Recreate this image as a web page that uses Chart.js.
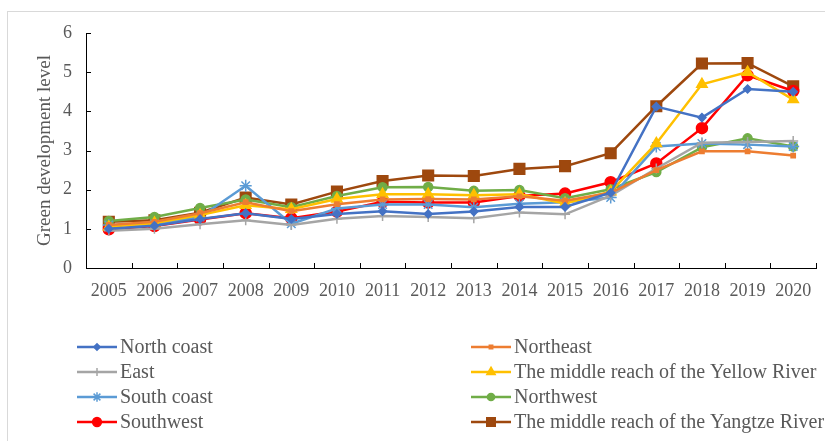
<!DOCTYPE html>
<html>
<head>
<meta charset="utf-8">
<script src="https://cdn.jsdelivr.net/npm/chart.js@4/dist/chart.umd.min.js"></script>
<style>
  html, body { margin: 0; padding: 0; background: #fff; overflow: hidden; }
  #wrap { position: relative; width: 825px; height: 441px; }
  #frame { position: absolute; left: 7px; top: 11px; width: 900px; height: 500px; border: 1px solid #d9d9d9; box-sizing: border-box; }
  #chartVerde { position: absolute; left: 0; top: 0; }
</style>
</head>
<body>
<div id="wrap">
  <div id="frame"></div>
  <canvas id="chartVerde" width="825" height="441"></canvas>
</div>
<script>
// datos
const anios = ["2005","2006","2007","2008","2009","2010","2011","2012","2013","2014","2015","2016","2017","2018","2019","2020"];

const costaNorte   = [1.00, 1.08, 1.25, 1.40, 1.25, 1.38, 1.45, 1.38, 1.44, 1.56, 1.56, 1.92, 4.12, 3.84, 4.57, 4.50];
const noreste      = [1.10, 1.18, 1.40, 1.68, 1.45, 1.63, 1.75, 1.76, 1.75, 1.83, 1.72, 1.92, 2.50, 2.98, 2.98, 2.87];
const este         = [0.95, 1.00, 1.12, 1.22, 1.10, 1.26, 1.33, 1.30, 1.27, 1.42, 1.37, 1.85, 2.54, 3.20, 3.22, 3.24];
const rioAmarillo  = [1.05, 1.15, 1.35, 1.60, 1.50, 1.76, 1.88, 1.88, 1.86, 1.88, 1.65, 1.95, 3.18, 4.69, 5.00, 4.30];
const costaSur     = [1.10, 1.12, 1.30, 2.10, 1.13, 1.52, 1.62, 1.62, 1.55, 1.64, 1.68, 1.80, 3.10, 3.18, 3.15, 3.10];
const noroeste     = [1.20, 1.30, 1.53, 1.75, 1.55, 1.84, 2.06, 2.07, 1.97, 1.99, 1.78, 2.01, 2.45, 3.08, 3.31, 3.10];
const suroeste     = [0.99, 1.07, 1.24, 1.40, 1.27, 1.44, 1.69, 1.67, 1.67, 1.84, 1.90, 2.19, 2.67, 3.57, 4.92, 4.52];
const rioYangtse   = [1.18, 1.22, 1.41, 1.80, 1.62, 1.95, 2.22, 2.36, 2.35, 2.53, 2.60, 2.93, 4.13, 5.22, 5.23, 4.64];

const series = [
  { label: "North coast", data: costaNorte, color: "#4472C4", style: "rectRot", r: 4 },
  { label: "Northeast", data: noreste, color: "#ED7D31", style: "rect", r: 3 },
  { label: "East", data: este, color: "#A5A5A5", style: "cross", r: 5 },
  { label: "The middle reach of the Yellow River", data: rioAmarillo, color: "#FFC000", style: "triangle", r: 6 },
  { label: "South coast", data: costaSur, color: "#5B9BD5", style: "star", r: 6 },
  { label: "Northwest", data: noroeste, color: "#70AD47", style: "circle", r: 4.5 },
  { label: "Southwest", data: suroeste, color: "#FF0000", style: "circle", r: 5.5 },
  { label: "The middle reach of the Yangtze River", data: rioYangtse, color: "#9E480E", style: "rect", r: 7.5 }
];

const fuente = "'Liberation Serif', 'Times New Roman', serif";
const gris = "#595959";

// marcas de graduación hacia dentro y leyenda en dos columnas
const pluginEjes = {
  id: "ejes",
  afterDraw(chart) {
    const ctx = chart.ctx;
    const x = chart.scales.x, y = chart.scales.y;
    ctx.save();
    ctx.strokeStyle = "#000";
    ctx.lineWidth = 1;
    y.ticks.forEach(t => {
      const py = Math.round(y.getPixelForValue(t.value)) + 0.5;
      ctx.beginPath(); ctx.moveTo(x.left, py); ctx.lineTo(x.left + 5, py); ctx.stroke();
    });
    const paso = x.getPixelForValue(1) - x.getPixelForValue(0);
    for (let i = 0; i <= anios.length; i++) {
      const px = Math.round(x.getPixelForValue(i) - paso / 2) + 0.5;
      ctx.beginPath(); ctx.moveTo(px, y.bottom); ctx.lineTo(px, y.bottom - 5); ctx.stroke();
    }

    ctx.font = "20px " + fuente;
    ctx.textBaseline = "middle";
    chart.data.datasets.forEach((ds, i) => {
      const col = i % 2, fila = Math.floor(i / 2);
      const x0 = col ? 471 : 77;
      const cy = 347 + fila * 25;
      ctx.strokeStyle = ds.borderColor;
      ctx.lineWidth = 2.5;
      ctx.beginPath(); ctx.moveTo(x0, cy); ctx.lineTo(x0 + 40, cy); ctx.stroke();
      ctx.fillStyle = ds.pointBackgroundColor;
      ctx.strokeStyle = ds.borderColor;
      ctx.lineWidth = 1.5;
      Chart.helpers.drawPoint(ctx, { pointStyle: ds.pointStyle, radius: ds.pointRadius * 0.8, rotation: 0, borderWidth: 1.5 }, x0 + 20, cy);
      ctx.fillStyle = gris;
      ctx.fillText(ds.label, x0 + 43, cy + 1);
    });
    ctx.restore();
  }
};

const ctx = document.getElementById("chartVerde").getContext("2d");
new Chart(ctx, {
  type: "line",
  data: {
    labels: anios,
    datasets: series.map(s => ({
      label: s.label,
      data: s.data,
      borderColor: s.color,
      backgroundColor: s.color,
      pointBackgroundColor: s.color,
      pointBorderColor: s.color,
      pointStyle: s.style,
      pointRadius: s.r,
      pointBorderWidth: 1.5,
      borderWidth: 2.5,
      tension: 0,
      fill: false
    }))
  },
  options: {
    responsive: false,
    devicePixelRatio: 1,
    animation: false,
    layout: { padding: { left: 20, top: 33, right: 9, bottom: 143 } },
    plugins: { legend: { display: false }, tooltip: { enabled: false } },
    scales: {
      x: {
        offset: true,
        grid: { display: false, drawTicks: false },
        border: { color: "#000", width: 1 },
        ticks: { color: gris, font: { family: fuente, size: 18 }, padding: 12, maxRotation: 0, autoSkip: false },
        afterFit: s => { s.height = 30; }
      },
      y: {
        min: 0, max: 6,
        grid: { display: false, drawTicks: false },
        border: { color: "#000", width: 1 },
        ticks: { stepSize: 1, color: gris, font: { family: fuente, size: 18 }, padding: 14 },
        title: { display: true, text: "Green development level", color: gris, font: { family: fuente, size: 19 }, padding: { top: 14, bottom: 0 } },
        afterFit: s => { s.width = 66; }
      }
    }
  },
  plugins: [pluginEjes]
});
</script>
</body>
</html>
